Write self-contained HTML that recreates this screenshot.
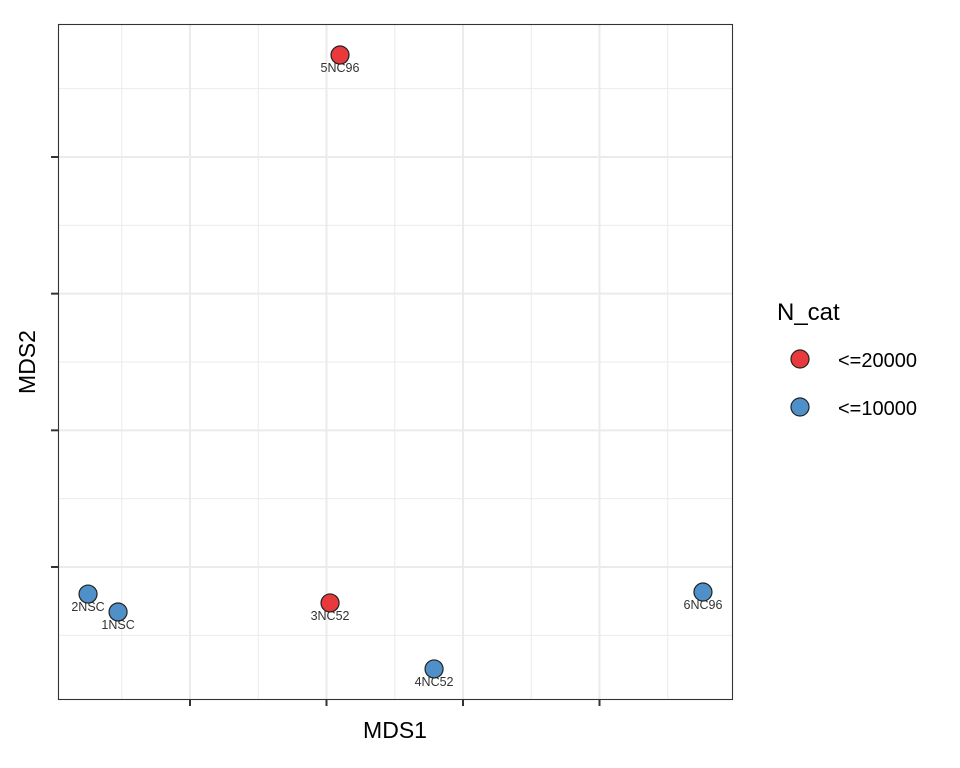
<!DOCTYPE html>
<html><head><meta charset="utf-8"><style>
body{margin:0;background:#fff;}
svg{display:block;font-family:"Liberation Sans",sans-serif;}
</style></head><body>
<svg id="chart" width="960" height="768">
<rect x="0" y="0" width="960" height="768" fill="#fff"/>
<g id="grid"></g>
<g id="pts"></g>
<rect x="58.5" y="24.5" width="674" height="675" fill="none" stroke="#333" stroke-width="1.1"/>
<g id="ticks"></g>
<text x="395" y="738" text-anchor="middle" font-size="23" fill="#000">MDS1</text>
<text x="35" y="362" text-anchor="middle" font-size="23" fill="#000" transform="rotate(-90 35 362)">MDS2</text>
<g>
<text x="777" y="320" font-size="24" fill="#000">N_cat</text>
<g><circle cx="800" cy="359" r="9" fill="#E8393C" stroke="#222" stroke-width="1.2"/><text x="838" y="367" font-size="20" fill="#000">&lt;=20000</text></g>
<g><circle cx="800" cy="407" r="9" fill="#5090C9" stroke="#222" stroke-width="1.2"/><text x="838" y="415" font-size="20" fill="#000">&lt;=10000</text></g>
</g>
</svg>
<script>
const labels=["2NSC","1NSC","3NC52","5NC96","4NC52","6NC96"];
const mds1=[0.253,0.473,2.026,2.099,2.788,4.758];
const mds2=[0.802,0.671,0.737,4.746,0.254,0.817];
const ncat=["<=10000","<=10000","<=20000","<=20000","<=10000","<=10000"];
const xTicks=[1,2,3,4];
const yTicks=[1,2,3,4];
const colors={"<=20000":"#E8393C","<=10000":"#5090C9"};
const NS="http://www.w3.org/2000/svg";
function X(v){return 190+(v-1)*136.5;}
function Y(v){return 567-(v-1)*136.67;}
const grid=document.getElementById('grid'),ticks=document.getElementById('ticks'),pts=document.getElementById('pts');
function line(p,x1,y1,x2,y2,st,w,name){const l=document.createElementNS(NS,'line');l.setAttribute('x1',x1);l.setAttribute('y1',y1);l.setAttribute('x2',x2);l.setAttribute('y2',y2);l.setAttribute('stroke',st);l.setAttribute('stroke-width',w);


p.appendChild(l);}
for(let k=0;k<=4;k++){const vx=xTicks[0]-0.5+k;line(grid,X(vx),24,X(vx),699,'#EBEBEB',1,'x-minor-grid');const vy=yTicks[0]-0.5+k;line(grid,58,Y(vy),732,Y(vy),'#EBEBEB',1,'y-minor-grid');}
xTicks.forEach(v=>{line(grid,X(v),24,X(v),699,'#EBEBEB',2,'x-major-grid');line(ticks,X(v),699,X(v),706,'#333',2,'x-tick');});
yTicks.forEach(v=>{line(grid,58,Y(v),732,Y(v),'#EBEBEB',2,'y-major-grid');line(ticks,51,Y(v),58,Y(v),'#333',2,'y-tick');});
labels.forEach((lb,i)=>{
const t=document.createElementNS(NS,'text');t.setAttribute('x',X(mds1[i]));t.setAttribute('y',Y(mds2[i])+17);t.setAttribute('text-anchor','middle');t.setAttribute('font-size','12.5');t.setAttribute('fill','#333');t.textContent=lb;


pts.appendChild(t);
const c=document.createElementNS(NS,'circle');c.setAttribute('cx',X(mds1[i]));c.setAttribute('cy',Y(mds2[i]));c.setAttribute('r',9);c.setAttribute('fill',colors[ncat[i]]);c.setAttribute('stroke','#222');c.setAttribute('stroke-width','1.2');


pts.appendChild(c);
});
</script>
</body></html>
